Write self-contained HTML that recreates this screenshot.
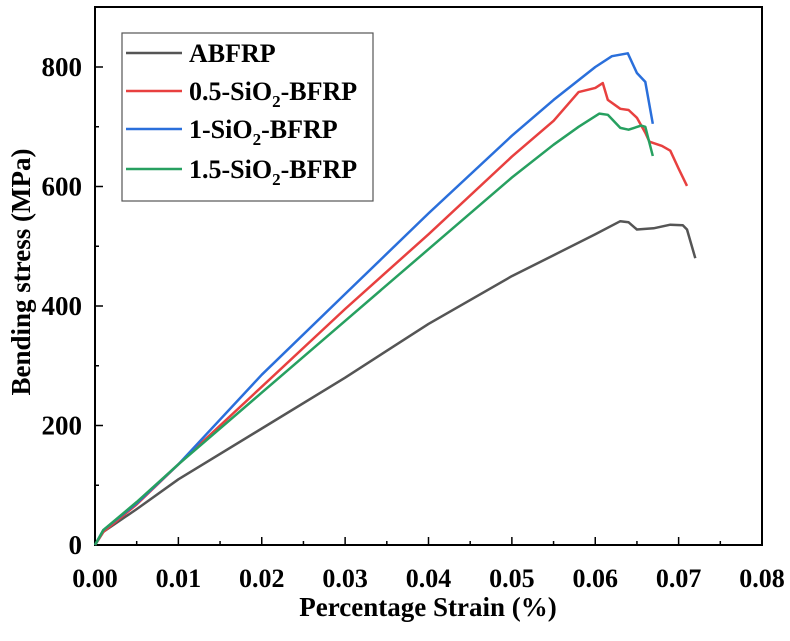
<!DOCTYPE html>
<html><head><meta charset="utf-8"><style>
body{margin:0;background:#fff}
svg text{font-family:"Liberation Serif",serif;font-weight:bold;fill:#000}
</style></head><body>
<svg id="chart" width="790" height="636" xmlns="http://www.w3.org/2000/svg">
<g id="axes"></g><g id="series"></g><g id="legend"></g>
</svg>
<script>
const seriesNames=["ABFRP","0.5-SiO2-BFRP","1-SiO2-BFRP","1.5-SiO2-BFRP"];
const seriesColors=["#555555","#e8403f","#2a6fdb","#27a060"];
const xTicks=[0,0.01,0.02,0.03,0.04,0.05,0.06,0.07,0.08];
const yTicks=[0,200,400,600,800];
const strainA=[0,0.001,0.005,0.01,0.02,0.03,0.04,0.05,0.055,0.06,0.063,0.064,0.065,0.067,0.069,0.0705,0.071,0.072];
const stressA=[0,22,60,110,195,280,370,450,485,520,542,540,528,530,536,535,528,480];
const strainR=[0,0.001,0.005,0.01,0.02,0.03,0.04,0.05,0.055,0.058,0.06,0.0609,0.0615,0.063,0.064,0.065,0.066,0.0665,0.068,0.069,0.07,0.071];
const stressR=[0,22,68,135,265,395,520,650,710,758,765,773,745,730,728,715,690,675,668,660,630,601];
const strainB=[0,0.001,0.005,0.01,0.02,0.03,0.04,0.05,0.055,0.06,0.062,0.0639,0.065,0.066,0.0669];
const stressB=[0,25,70,135,285,420,555,685,745,800,818,823,790,775,705];
const strainG=[0,0.001,0.005,0.01,0.02,0.03,0.04,0.05,0.055,0.058,0.0605,0.0615,0.063,0.064,0.0655,0.066,0.0669];
const stressG=[0,25,72,135,255,375,495,615,670,700,722,720,698,695,702,700,651];
const L=95,R=762,T=7,B=545;
const xs=v=>L+v/0.08*(R-L);
const ys=v=>B-v/800*(B-67);
const NS="http://www.w3.org/2000/svg";
function mk(p,tag,at){const e=document.createElementNS(NS,tag);for(const k in at)e.setAttribute(k,at[k]);p.appendChild(e);return e;}
const ax=document.getElementById('axes');
const fr=mk(ax,'rect',{x:L,y:T,width:R-L,height:B-T,fill:'none',stroke:'#000','stroke-width':2});


xTicks.forEach((v,i)=>{
  const t=mk(ax,'line',{x1:xs(v),x2:xs(v),y1:B,y2:B-8,stroke:'#000','stroke-width':1.5});
  
  
  if(i<xTicks.length-1){const m=mk(ax,'line',{x1:xs(v+0.005),x2:xs(v+0.005),y1:B,y2:B-4,stroke:'#000','stroke-width':1.5});
  
  }
  const tx=mk(ax,'text',{x:xs(v),y:B+42,'text-anchor':'middle','font-size':26});
  tx.textContent=v.toFixed(2);
  
  
});
yTicks.forEach((v,i)=>{
  const t=mk(ax,'line',{x1:L,x2:L+8,y1:ys(v),y2:ys(v),stroke:'#000','stroke-width':1.5});
  
  
  const m=mk(ax,'line',{x1:L,x2:L+4,y1:ys(v+100),y2:ys(v+100),stroke:'#000','stroke-width':1.5});
  
  
  const tx=mk(ax,'text',{x:L-13,y:ys(v)+9,'text-anchor':'end','font-size':27});
  tx.textContent=v;
  
  
});
const xt=mk(ax,'text',{x:428,y:616,'text-anchor':'middle','font-size':27});
xt.textContent='Percentage Strain (%)';


const yt=mk(ax,'text',{x:0,y:0,'text-anchor':'middle','font-size':27,transform:'translate(30,272) rotate(-90)'});
yt.textContent='Bending stress (MPa)';


const sg=document.getElementById('series');
const data=[[strainA,stressA],[strainR,stressR],[strainB,stressB],[strainG,stressG]];
data.forEach((d,i)=>{
  const pts=d[0].map((x,j)=>xs(x).toFixed(1)+','+ys(d[1][j]).toFixed(1)).join(' ');
  const pl=mk(sg,'polyline',{points:pts,fill:'none',stroke:seriesColors[i],'stroke-width':2.5,'stroke-linejoin':'round'});
  
  
});
const lg=document.getElementById('legend');
const lb=mk(lg,'rect',{x:122,y:33,width:251,height:168,fill:'#fff',stroke:'#555','stroke-width':1.2});


const ly=[53,91,129,169];
seriesNames.forEach((n,i)=>{
  const l=mk(lg,'line',{x1:126,x2:182,y1:ly[i],y2:ly[i],stroke:seriesColors[i],'stroke-width':2.5});
  
  
  const t=mk(lg,'text',{x:189,y:ly[i]+9,'font-size':26});
  
  
  const m=n.match(/^(.*SiO)2(.*)$/);
  if(m){t.appendChild(document.createTextNode(m[1]));
    const s=mk(t,'tspan',{dy:7,'font-size':17});s.textContent='2';
    const r=mk(t,'tspan',{dy:-7});r.textContent=m[2];}
  else t.textContent=n;
});
</script>
</body></html>
